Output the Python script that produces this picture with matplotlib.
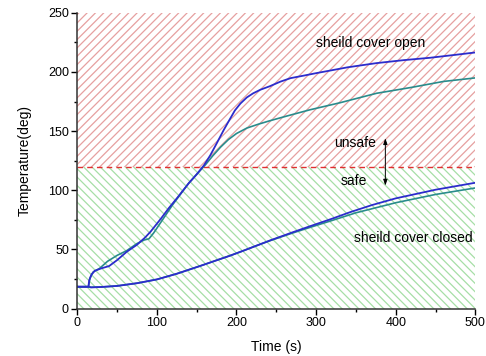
import matplotlib
matplotlib.use("Agg")
import matplotlib.pyplot as plt
from matplotlib.ticker import MultipleLocator

plt.rcParams['font.family'] = ['Liberation Sans', 'DejaVu Sans']
plt.rcParams['hatch.linewidth'] = 0.9

# --- data ---
open_blue_t = [0, 14, 15, 18, 22, 30, 40, 50, 62, 75, 85, 92, 105, 115, 126, 140, 150, 159, 167, 175, 184,
               192, 198, 205, 213, 221, 230, 242, 255, 268, 285, 300, 340, 376, 410, 443, 475, 500]
open_blue_T = [18.5, 18.5, 24, 29, 32, 34, 36, 41, 48, 54, 60, 65, 76, 85, 94, 106, 113.5, 121, 129.5, 139.5, 151,
               160.5, 167.5, 173.4, 178.5, 182, 185, 188, 191.8, 194.8, 197, 199, 204, 207.5, 210, 212, 214.5, 216.5]

open_teal_t = [0, 14, 16, 20, 28, 38, 50, 62, 75, 84, 90, 96, 105, 120, 140, 150, 161, 170, 180, 190, 200,
               213, 228, 242, 259, 292, 330, 376, 420, 460, 500]
open_teal_T = [18.5, 18.5, 26, 31, 34, 40, 45, 49, 55, 58, 59, 64, 73, 88, 106, 113.5, 121.6, 129, 136.5, 143, 148,
               152.6, 156, 158.8, 162, 168, 174, 182, 187, 192, 195]

closed_blue_t = [0, 15, 17, 30, 50, 75, 100, 125, 154, 192, 208, 225, 242, 270, 293, 320, 343, 370, 400, 450, 500]
closed_blue_T = [18.5, 18.5, 18.0, 18.3, 19.2, 21.5, 24.7, 29.5, 36, 44.8, 48.8, 53.2, 57.6, 64.4, 69.8, 76, 81.6, 87.5, 93.2, 100.5, 106.4]

closed_teal_t = [0, 15, 17, 30, 50, 75, 100, 125, 154, 192, 208, 225, 242, 270, 293, 320, 350, 400, 450, 500]
closed_teal_T = [18.5, 18.5, 18.0, 18.3, 19.2, 21.5, 24.7, 29.5, 36, 44.8, 48.8, 53.2, 57.4, 63.8, 68.8, 74.5, 81, 89.5, 96.5, 102]

safe_limit = 120
x_range = (0, 500)
y_range = (0, 250)

fig = plt.figure(figsize=(4.86, 3.56), dpi=100)
ax = fig.add_axes([0.159, 0.133, 0.819, 0.831])

# hatched regions
ax.axhspan(safe_limit, y_range[1], facecolor='none', edgecolor='#e6a0a0', hatch='////', linewidth=0)
ax.axhspan(y_range[0], safe_limit, facecolor='none', edgecolor='#a6dea6', hatch='\\\\\\\\', linewidth=0)
ax.axhline(safe_limit, color='#e03030', lw=1.0, dashes=(4, 3))

c_blue = '#2c2ccc'
c_teal = '#2a8c8c'
ax.plot(closed_teal_t, closed_teal_T, color=c_teal, lw=1.2)
ax.plot(closed_blue_t, closed_blue_T, color=c_blue, lw=1.3)
ax.plot(open_teal_t, open_teal_T, color=c_teal, lw=1.2)
ax.plot(open_blue_t, open_blue_T, color=c_blue, lw=1.3)

ax.text(369, 224.4, 'sheild cover open', ha='center', va='center', fontsize=10)
ax.text(349, 140, 'unsafe', ha='center', va='center', fontsize=10)
ax.text(347, 108, 'safe', ha='center', va='center', fontsize=10)
ax.text(421.5, 59.4, 'sheild cover closed', ha='center', va='center', fontsize=10)
ax.annotate('', xy=(387, 144), xytext=(387, 104),
            arrowprops=dict(arrowstyle='<|-|>,head_length=0.35,head_width=0.12', color='black', lw=0.7,
                            shrinkA=0, shrinkB=0))

ax.set_xlim(*x_range)
ax.set_ylim(*y_range)
ax.xaxis.set_major_locator(MultipleLocator(100))
ax.xaxis.set_minor_locator(MultipleLocator(50))
ax.yaxis.set_major_locator(MultipleLocator(50))
ax.yaxis.set_minor_locator(MultipleLocator(25))
ax.tick_params(which='major', direction='out', length=4, width=1.0, labelsize=9, pad=2)
ax.tick_params(which='minor', direction='out', length=2.5, width=1.0)
for s in ['top', 'right']:
    ax.spines[s].set_visible(False)
for s in ['left', 'bottom']:
    ax.spines[s].set_linewidth(1.1)
    ax.spines[s].set_color('#333333')

ax.set_xlabel('Time (s)', fontsize=10)
ax.set_ylabel('Temperature(deg)', fontsize=10)
ax.xaxis.set_label_coords(0.5, -0.105)
ax.yaxis.set_label_coords(-0.114, 0.5)

fig.savefig('out.png', dpi=100)
